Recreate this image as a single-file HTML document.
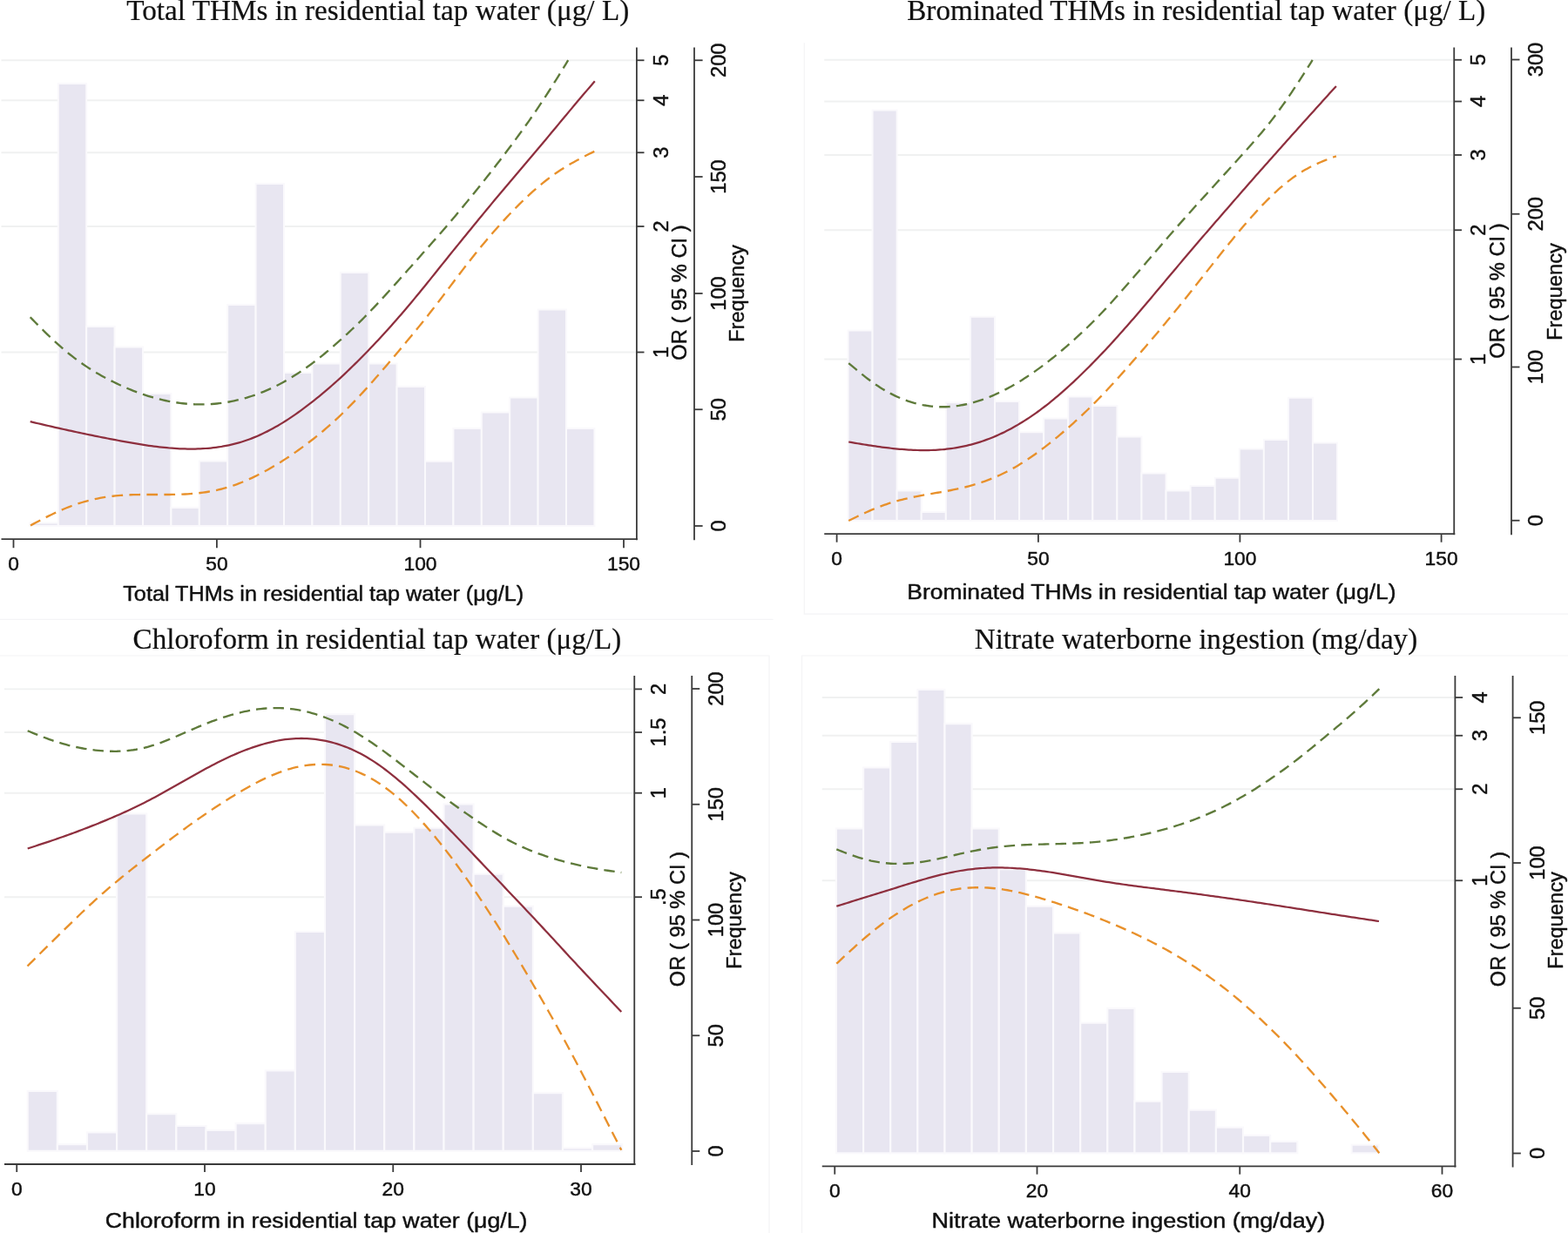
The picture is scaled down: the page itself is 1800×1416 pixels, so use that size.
<!DOCTYPE html>
<html lang="en"><head><meta charset="utf-8"><title>Exposure-response curves</title>
<style>
html,body{margin:0;padding:0;background:#fff}
body{width:1800px;height:1416px;overflow:hidden}
svg{display:block}
svg text{stroke:#111;stroke-width:.45px;stroke-linejoin:round}
svg text.ttl{stroke-width:.2px}
</style></head><body>
<svg xmlns="http://www.w3.org/2000/svg" width="1800" height="1416" viewBox="0 0 1800 1416" font-family='"Liberation Sans", sans-serif' fill="#111">
<rect width="1800" height="1416" fill="#fff"/>
<g fill="none" stroke="#f4f4f6" stroke-width="1.2"><path d="M0 711.4H887.6"/><path d="M923.3 49.3V705.1H1800"/><path d="M0 753H883V1416"/><path d="M1800 753H920.5V1416"/></g>
<g>
<g stroke="#f0f1f1" stroke-width="1.9"><line x1="1.5" x2="731" y1="69.25" y2="69.25"/><line x1="1.5" x2="731" y1="115.25" y2="115.25"/><line x1="1.5" x2="731" y1="175.25" y2="175.25"/><line x1="1.5" x2="731" y1="260" y2="260"/><line x1="1.5" x2="731" y1="404.5" y2="404.5"/></g>
<g fill="#e8e6f1" stroke="#faf9fc" stroke-width="2"><rect x="34.4" y="600.5" width="32.4" height="3.5"/><rect x="66.8" y="96" width="32.4" height="508"/><rect x="99.2" y="375" width="32.4" height="229"/><rect x="131.6" y="398.5" width="32.4" height="205.5"/><rect x="164" y="452" width="32.4" height="152"/><rect x="196.4" y="583" width="32.4" height="21"/><rect x="228.8" y="529.5" width="32.4" height="74.5"/><rect x="261.2" y="350" width="32.4" height="254"/><rect x="293.6" y="211" width="32.4" height="393"/><rect x="326" y="428" width="32.4" height="176"/><rect x="358.4" y="417.5" width="32.4" height="186.5"/><rect x="390.8" y="313" width="32.4" height="291"/><rect x="423.2" y="417.5" width="32.4" height="186.5"/><rect x="455.6" y="444" width="32.4" height="160"/><rect x="488" y="529.75" width="32.4" height="74.25"/><rect x="520.4" y="492" width="32.4" height="112"/><rect x="552.8" y="473.5" width="32.4" height="130.5"/><rect x="585.2" y="456.5" width="32.4" height="147.5"/><rect x="617.6" y="355.5" width="32.4" height="248.5"/><rect x="650" y="492" width="32.4" height="112"/></g>
<path d="M34.7 364.26 L37.52 367.13 L40.34 369.99 L43.16 372.84 L45.98 375.68 L48.8 378.5 L51.62 381.29 L54.44 384.05 L57.26 386.77 L60.08 389.46 L62.9 392.09 L65.72 394.68 L68.54 397.21 L71.36 399.68 L74.17 402.09 L76.99 404.43 L79.81 406.72 L82.63 408.95 L85.45 411.12 L88.27 413.24 L91.09 415.3 L93.91 417.3 L96.73 419.25 L99.55 421.14 L102.37 422.98 L105.19 424.77 L108.01 426.5 L110.83 428.19 L113.65 429.83 L116.47 431.43 L119.29 432.98 L122.11 434.5 L124.93 435.97 L127.75 437.41 L130.57 438.81 L133.39 440.18 L136.21 441.51 L139.03 442.82 L141.85 444.09 L144.67 445.32 L147.49 446.52 L150.31 447.68 L153.12 448.81 L155.94 449.91 L158.76 450.96 L161.58 451.98 L164.4 452.96 L167.22 453.9 L170.04 454.8 L172.86 455.66 L175.68 456.48 L178.5 457.26 L181.32 458.01 L184.14 458.71 L186.96 459.37 L189.78 460 L192.6 460.58 L195.42 461.13 L198.24 461.63 L201.06 462.09 L203.88 462.52 L206.7 462.9 L209.52 463.24 L212.34 463.54 L215.16 463.8 L217.98 464.01 L220.8 464.18 L223.62 464.31 L226.44 464.4 L229.25 464.44 L232.07 464.44 L234.89 464.39 L237.71 464.3 L240.53 464.16 L243.35 463.98 L246.17 463.76 L248.99 463.49 L251.81 463.17 L254.63 462.82 L257.45 462.41 L260.27 461.96 L263.09 461.47 L265.91 460.93 L268.73 460.35 L271.55 459.72 L274.37 459.05 L277.19 458.33 L280.01 457.57 L282.83 456.76 L285.65 455.9 L288.47 455 L291.29 454.05 L294.11 453.06 L296.93 452.01 L299.75 450.93 L302.57 449.79 L305.38 448.61 L308.2 447.38 L311.02 446.1 L313.84 444.77 L316.66 443.39 L319.48 441.96 L322.3 440.49 L325.12 438.96 L327.94 437.39 L330.76 435.76 L333.58 434.08 L336.4 432.36 L339.22 430.58 L342.04 428.76 L344.86 426.89 L347.68 424.98 L350.5 423.01 L353.32 421.01 L356.14 418.95 L358.96 416.86 L361.78 414.72 L364.6 412.54 L367.42 410.31 L370.24 408.05 L373.06 405.75 L375.88 403.41 L378.7 401.04 L381.52 398.63 L384.33 396.19 L387.15 393.72 L389.97 391.21 L392.79 388.68 L395.61 386.12 L398.43 383.53 L401.25 380.9 L404.07 378.25 L406.89 375.56 L409.71 372.85 L412.53 370.09 L415.35 367.31 L418.17 364.48 L420.99 361.63 L423.81 358.73 L426.63 355.8 L429.45 352.83 L432.27 349.84 L435.09 346.81 L437.91 343.76 L440.73 340.69 L443.55 337.59 L446.37 334.49 L449.19 331.37 L452.01 328.24 L454.83 325.1 L457.65 321.95 L460.46 318.8 L463.28 315.64 L466.1 312.48 L468.92 309.32 L471.74 306.16 L474.56 302.99 L477.38 299.82 L480.2 296.66 L483.02 293.49 L485.84 290.32 L488.66 287.15 L491.48 283.97 L494.3 280.78 L497.12 277.58 L499.94 274.38 L502.76 271.16 L505.58 267.92 L508.4 264.67 L511.22 261.4 L514.04 258.12 L516.86 254.81 L519.68 251.48 L522.5 248.14 L525.32 244.77 L528.14 241.39 L530.96 237.99 L533.78 234.57 L536.59 231.13 L539.41 227.68 L542.23 224.21 L545.05 220.72 L547.87 217.22 L550.69 213.7 L553.51 210.16 L556.33 206.61 L559.15 203.04 L561.97 199.45 L564.79 195.85 L567.61 192.22 L570.43 188.58 L573.25 184.92 L576.07 181.23 L578.89 177.53 L581.71 173.8 L584.53 170.05 L587.35 166.28 L590.17 162.48 L592.99 158.66 L595.81 154.8 L598.63 150.92 L601.45 147 L604.27 143.05 L607.09 139.06 L609.91 135.03 L612.73 130.95 L615.54 126.84 L618.36 122.67 L621.18 118.46 L624 114.19 L626.82 109.87 L629.64 105.49 L632.46 101.07 L635.28 96.6 L638.1 92.09 L640.92 87.55 L643.74 82.98 L646.56 78.39 L649.38 73.79 L652.2 69.18" fill="none" stroke="#5e7a3a" stroke-width="2.35" stroke-dasharray="12.597 7.198"/>
<path d="M35 603.46 L37.96 601.89 L40.91 600.32 L43.87 598.75 L46.82 597.2 L49.78 595.67 L52.73 594.16 L55.69 592.67 L58.65 591.21 L61.6 589.78 L64.56 588.39 L67.51 587.04 L70.47 585.74 L73.42 584.48 L76.38 583.26 L79.34 582.1 L82.29 580.98 L85.25 579.91 L88.2 578.89 L91.16 577.92 L94.11 577 L97.07 576.13 L100.03 575.32 L102.98 574.55 L105.94 573.83 L108.89 573.16 L111.85 572.54 L114.8 571.97 L117.76 571.44 L120.72 570.96 L123.67 570.52 L126.63 570.12 L129.58 569.77 L132.54 569.45 L135.49 569.18 L138.45 568.94 L141.41 568.73 L144.36 568.55 L147.32 568.41 L150.27 568.29 L153.23 568.19 L156.18 568.12 L159.14 568.06 L162.1 568.02 L165.05 568 L168.01 567.99 L170.96 567.98 L173.92 567.98 L176.87 567.99 L179.83 568 L182.79 568.01 L185.74 568.01 L188.7 568.01 L191.65 568 L194.61 567.98 L197.56 567.94 L200.52 567.89 L203.48 567.82 L206.43 567.73 L209.39 567.62 L212.34 567.49 L215.3 567.32 L218.25 567.13 L221.21 566.91 L224.17 566.65 L227.12 566.35 L230.08 566.02 L233.03 565.65 L235.99 565.23 L238.94 564.77 L241.9 564.27 L244.86 563.71 L247.81 563.11 L250.77 562.45 L253.72 561.74 L256.68 560.98 L259.63 560.16 L262.59 559.28 L265.55 558.34 L268.5 557.34 L271.46 556.28 L274.41 555.17 L277.37 554 L280.32 552.78 L283.28 551.51 L286.24 550.19 L289.19 548.82 L292.15 547.4 L295.1 545.94 L298.06 544.44 L301.01 542.89 L303.97 541.3 L306.93 539.67 L309.88 537.99 L312.84 536.28 L315.79 534.52 L318.75 532.73 L321.7 530.9 L324.66 529.03 L327.62 527.13 L330.57 525.18 L333.53 523.21 L336.48 521.19 L339.44 519.14 L342.39 517.05 L345.35 514.92 L348.31 512.76 L351.26 510.55 L354.22 508.31 L357.17 506.03 L360.13 503.71 L363.08 501.34 L366.04 498.94 L368.99 496.49 L371.95 494 L374.91 491.46 L377.86 488.88 L380.82 486.25 L383.77 483.57 L386.73 480.85 L389.68 478.07 L392.64 475.24 L395.6 472.35 L398.55 469.42 L401.51 466.44 L404.46 463.41 L407.42 460.34 L410.37 457.22 L413.33 454.07 L416.29 450.87 L419.24 447.63 L422.2 444.36 L425.15 441.06 L428.11 437.72 L431.06 434.35 L434.02 430.96 L436.98 427.54 L439.93 424.1 L442.89 420.64 L445.84 417.16 L448.8 413.67 L451.75 410.17 L454.71 406.66 L457.67 403.15 L460.62 399.63 L463.58 396.1 L466.53 392.56 L469.49 389.01 L472.44 385.44 L475.4 381.85 L478.36 378.25 L481.31 374.62 L484.27 370.97 L487.22 367.29 L490.18 363.58 L493.13 359.83 L496.09 356.05 L499.05 352.23 L502 348.38 L504.96 344.5 L507.91 340.61 L510.87 336.69 L513.82 332.77 L516.78 328.85 L519.74 324.93 L522.69 321.02 L525.65 317.13 L528.6 313.25 L531.56 309.39 L534.51 305.55 L537.47 301.75 L540.43 297.98 L543.38 294.25 L546.34 290.55 L549.29 286.9 L552.25 283.28 L555.2 279.71 L558.16 276.17 L561.12 272.68 L564.07 269.23 L567.03 265.82 L569.98 262.45 L572.94 259.12 L575.89 255.84 L578.85 252.61 L581.81 249.42 L584.76 246.27 L587.72 243.17 L590.67 240.12 L593.63 237.12 L596.58 234.17 L599.54 231.27 L602.5 228.42 L605.45 225.63 L608.41 222.89 L611.36 220.21 L614.32 217.59 L617.27 215.03 L620.23 212.54 L623.19 210.11 L626.14 207.75 L629.1 205.46 L632.05 203.23 L635.01 201.08 L637.96 199 L640.92 196.98 L643.88 195.04 L646.83 193.15 L649.79 191.33 L652.74 189.55 L655.7 187.83 L658.65 186.16 L661.61 184.53 L664.57 182.93 L667.52 181.37 L670.48 179.83 L673.43 178.32 L676.39 176.82 L679.34 175.33 L682.3 173.85" fill="none" stroke="#e8902a" stroke-width="2.35" stroke-dasharray="12.726 7.272"/>
<path d="M34.7 484.2 L37.66 484.89 L40.62 485.58 L43.58 486.27 L46.54 486.96 L49.5 487.64 L52.46 488.33 L55.42 489.01 L58.37 489.68 L61.33 490.36 L64.29 491.03 L67.25 491.7 L70.21 492.36 L73.17 493.02 L76.13 493.67 L79.09 494.32 L82.05 494.97 L85.01 495.61 L87.97 496.24 L90.93 496.87 L93.89 497.5 L96.85 498.12 L99.81 498.73 L102.77 499.34 L105.72 499.95 L108.68 500.55 L111.64 501.15 L114.6 501.74 L117.56 502.33 L120.52 502.91 L123.48 503.48 L126.44 504.06 L129.4 504.63 L132.36 505.19 L135.32 505.75 L138.28 506.31 L141.24 506.86 L144.2 507.4 L147.16 507.93 L150.12 508.46 L153.07 508.97 L156.03 509.48 L158.99 509.97 L161.95 510.44 L164.91 510.9 L167.87 511.35 L170.83 511.78 L173.79 512.19 L176.75 512.59 L179.71 512.96 L182.67 513.31 L185.63 513.65 L188.59 513.95 L191.55 514.24 L194.51 514.5 L197.46 514.73 L200.42 514.94 L203.38 515.12 L206.34 515.27 L209.3 515.39 L212.26 515.48 L215.22 515.54 L218.18 515.57 L221.14 515.56 L224.1 515.52 L227.06 515.45 L230.02 515.34 L232.98 515.19 L235.94 515 L238.9 514.78 L241.86 514.51 L244.81 514.2 L247.77 513.84 L250.73 513.44 L253.69 512.99 L256.65 512.48 L259.61 511.93 L262.57 511.33 L265.53 510.67 L268.49 509.95 L271.45 509.18 L274.41 508.35 L277.37 507.47 L280.33 506.52 L283.29 505.52 L286.25 504.46 L289.21 503.34 L292.16 502.17 L295.12 500.92 L298.08 499.62 L301.04 498.26 L304 496.84 L306.96 495.37 L309.92 493.83 L312.88 492.24 L315.84 490.6 L318.8 488.9 L321.76 487.15 L324.72 485.34 L327.68 483.49 L330.64 481.58 L333.6 479.63 L336.55 477.63 L339.51 475.58 L342.47 473.49 L345.43 471.35 L348.39 469.18 L351.35 466.96 L354.31 464.7 L357.27 462.41 L360.23 460.08 L363.19 457.72 L366.15 455.32 L369.11 452.88 L372.07 450.41 L375.03 447.9 L377.99 445.35 L380.95 442.77 L383.9 440.15 L386.86 437.5 L389.82 434.81 L392.78 432.08 L395.74 429.31 L398.7 426.51 L401.66 423.67 L404.62 420.8 L407.58 417.9 L410.54 414.96 L413.5 411.99 L416.46 408.99 L419.42 405.97 L422.38 402.91 L425.34 399.83 L428.29 396.72 L431.25 393.59 L434.21 390.42 L437.17 387.23 L440.13 384.01 L443.09 380.76 L446.05 377.48 L449.01 374.17 L451.97 370.84 L454.93 367.47 L457.89 364.07 L460.85 360.64 L463.81 357.19 L466.77 353.7 L469.73 350.2 L472.69 346.66 L475.64 343.11 L478.6 339.53 L481.56 335.93 L484.52 332.31 L487.48 328.67 L490.44 325.01 L493.4 321.34 L496.36 317.66 L499.32 313.97 L502.28 310.27 L505.24 306.57 L508.2 302.88 L511.16 299.18 L514.12 295.5 L517.08 291.82 L520.04 288.15 L522.99 284.49 L525.95 280.84 L528.91 277.2 L531.87 273.56 L534.83 269.93 L537.79 266.31 L540.75 262.68 L543.71 259.06 L546.67 255.45 L549.63 251.83 L552.59 248.23 L555.55 244.63 L558.51 241.03 L561.47 237.45 L564.43 233.88 L567.38 230.32 L570.34 226.78 L573.3 223.25 L576.26 219.73 L579.22 216.22 L582.18 212.72 L585.14 209.22 L588.1 205.73 L591.06 202.25 L594.02 198.76 L596.98 195.28 L599.94 191.79 L602.9 188.3 L605.86 184.81 L608.82 181.31 L611.78 177.8 L614.73 174.28 L617.69 170.76 L620.65 167.23 L623.61 163.7 L626.57 160.16 L629.53 156.61 L632.49 153.06 L635.45 149.5 L638.41 145.95 L641.37 142.38 L644.33 138.82 L647.29 135.26 L650.25 131.7 L653.21 128.15 L656.17 124.61 L659.13 121.08 L662.08 117.56 L665.04 114.06 L668 110.57 L670.96 107.1 L673.92 103.63 L676.88 100.18 L679.84 96.73 L682.8 93.28" fill="none" stroke="#8e2f3e" stroke-width="2.25"/>
<g stroke="#3a3a3a" stroke-width="1.8"><line x1="1.5" x2="732" y1="619.2" y2="619.2"/><line x1="15.5" x2="15.5" y1="619.2" y2="629.2"/><line x1="248.9" x2="248.9" y1="619.2" y2="629.2"/><line x1="482.5" x2="482.5" y1="619.2" y2="629.2"/><line x1="716" x2="716" y1="619.2" y2="629.2"/><line x1="730.9" x2="730.9" y1="54.5" y2="620.2"/><line x1="730.9" x2="739.5" y1="69.25" y2="69.25"/><line x1="730.9" x2="739.5" y1="115.25" y2="115.25"/><line x1="730.9" x2="739.5" y1="175.25" y2="175.25"/><line x1="730.9" x2="739.5" y1="260" y2="260"/><line x1="730.9" x2="739.5" y1="404.5" y2="404.5"/><line x1="797" x2="797" y1="54.5" y2="620.2"/><line x1="797" x2="806.6" y1="69.25" y2="69.25"/><line x1="797" x2="806.6" y1="203" y2="203"/><line x1="797" x2="806.6" y1="337" y2="337"/><line x1="797" x2="806.6" y1="470.25" y2="470.25"/><line x1="797" x2="806.6" y1="604" y2="604"/></g>
<text x="15.5" y="655" text-anchor="middle" font-size="22.8">0</text>
<text x="248.9" y="655" text-anchor="middle" font-size="22.8">50</text>
<text x="482.5" y="655" text-anchor="middle" font-size="22.8">100</text>
<text x="716" y="655" text-anchor="middle" font-size="22.8">150</text>
<text transform="translate(766.7 69.25) rotate(-90)" text-anchor="middle" font-size="23.7">5</text>
<text transform="translate(766.7 115.25) rotate(-90)" text-anchor="middle" font-size="23.7">4</text>
<text transform="translate(766.7 175.25) rotate(-90)" text-anchor="middle" font-size="23.7">3</text>
<text transform="translate(766.7 260) rotate(-90)" text-anchor="middle" font-size="23.7">2</text>
<text transform="translate(766.7 404.5) rotate(-90)" text-anchor="middle" font-size="23.7">1</text>
<text transform="translate(788 336) rotate(-90)" text-anchor="middle" font-size="23.7">OR ( 95 % CI )</text>
<text transform="translate(832.5 69.25) rotate(-90)" text-anchor="middle" font-size="23.7">200</text>
<text transform="translate(832.5 203) rotate(-90)" text-anchor="middle" font-size="23.7">150</text>
<text transform="translate(832.5 337) rotate(-90)" text-anchor="middle" font-size="23.7">100</text>
<text transform="translate(832.5 470.25) rotate(-90)" text-anchor="middle" font-size="23.7">50</text>
<text transform="translate(832.5 604) rotate(-90)" text-anchor="middle" font-size="23.7">0</text>
<text transform="translate(853.75 337) rotate(-90)" text-anchor="middle" font-size="23.7">Frequency</text>
<text x="145.2" y="22.9" font-family='"Liberation Serif", serif' font-size="33.1" class="ttl" textLength="577.1" lengthAdjust="spacingAndGlyphs">Total THMs in residential tap water (μg/ L)</text>
<text x="141.25" y="689.5" font-size="24.2" textLength="460" lengthAdjust="spacingAndGlyphs">Total THMs in residential tap water (μg/L)</text>
</g>
<g>
<g stroke="#f0f1f1" stroke-width="1.9"><line x1="946.25" x2="1669" y1="68.75" y2="68.75"/><line x1="946.25" x2="1669" y1="116.5" y2="116.5"/><line x1="946.25" x2="1669" y1="178" y2="178"/><line x1="946.25" x2="1669" y1="264.25" y2="264.25"/><line x1="946.25" x2="1669" y1="412.5" y2="412.5"/></g>
<g fill="#e8e6f1" stroke="#faf9fc" stroke-width="1.98"><rect x="973.51" y="379.51" width="28.08" height="218.48"/><rect x="1001.59" y="126.51" width="28.08" height="471.48"/><rect x="1029.67" y="563.51" width="28.08" height="34.48"/><rect x="1057.75" y="588.01" width="28.08" height="9.98"/><rect x="1085.83" y="462.26" width="28.08" height="135.73"/><rect x="1113.91" y="363.76" width="28.08" height="234.23"/><rect x="1141.99" y="461.01" width="28.08" height="136.98"/><rect x="1170.07" y="496.26" width="28.08" height="101.73"/><rect x="1198.15" y="480.51" width="28.08" height="117.48"/><rect x="1226.23" y="455.51" width="28.08" height="142.48"/><rect x="1254.31" y="466.01" width="28.08" height="131.98"/><rect x="1282.39" y="501.51" width="28.08" height="96.48"/><rect x="1310.47" y="543.51" width="28.08" height="54.48"/><rect x="1338.55" y="563.51" width="28.08" height="34.48"/><rect x="1366.63" y="558.01" width="28.08" height="39.98"/><rect x="1394.71" y="548.76" width="28.08" height="49.23"/><rect x="1422.79" y="515.51" width="28.08" height="82.48"/><rect x="1450.87" y="505.01" width="28.08" height="92.98"/><rect x="1478.95" y="456.76" width="28.08" height="141.23"/><rect x="1507.03" y="508.51" width="28.08" height="89.48"/></g>
<path d="M974.2 417.08 L976.63 419.13 L979.06 421.18 L981.49 423.22 L983.93 425.24 L986.36 427.24 L988.79 429.22 L991.22 431.16 L993.65 433.08 L996.08 434.95 L998.52 436.79 L1000.95 438.57 L1003.38 440.3 L1005.81 441.98 L1008.24 443.6 L1010.67 445.16 L1013.1 446.67 L1015.54 448.13 L1017.97 449.53 L1020.4 450.87 L1022.83 452.17 L1025.26 453.4 L1027.69 454.58 L1030.12 455.71 L1032.56 456.78 L1034.99 457.8 L1037.42 458.76 L1039.85 459.67 L1042.28 460.53 L1044.71 461.33 L1047.15 462.08 L1049.58 462.78 L1052.01 463.43 L1054.44 464.03 L1056.87 464.57 L1059.3 465.07 L1061.73 465.51 L1064.17 465.91 L1066.6 466.26 L1069.03 466.55 L1071.46 466.8 L1073.89 466.99 L1076.32 467.14 L1078.75 467.23 L1081.19 467.27 L1083.62 467.27 L1086.05 467.21 L1088.48 467.1 L1090.91 466.94 L1093.34 466.74 L1095.78 466.49 L1098.21 466.18 L1100.64 465.84 L1103.07 465.44 L1105.5 465 L1107.93 464.52 L1110.36 463.99 L1112.8 463.41 L1115.23 462.79 L1117.66 462.13 L1120.09 461.43 L1122.52 460.69 L1124.95 459.9 L1127.38 459.07 L1129.82 458.2 L1132.25 457.3 L1134.68 456.35 L1137.11 455.36 L1139.54 454.33 L1141.97 453.27 L1144.41 452.16 L1146.84 451.02 L1149.27 449.84 L1151.7 448.63 L1154.13 447.38 L1156.56 446.09 L1158.99 444.77 L1161.43 443.41 L1163.86 442.02 L1166.29 440.6 L1168.72 439.14 L1171.15 437.65 L1173.58 436.14 L1176.02 434.58 L1178.45 433 L1180.88 431.39 L1183.31 429.75 L1185.74 428.08 L1188.17 426.37 L1190.6 424.64 L1193.04 422.88 L1195.47 421.1 L1197.9 419.28 L1200.33 417.44 L1202.76 415.57 L1205.19 413.67 L1207.62 411.75 L1210.06 409.8 L1212.49 407.82 L1214.92 405.82 L1217.35 403.79 L1219.78 401.74 L1222.21 399.67 L1224.65 397.57 L1227.08 395.44 L1229.51 393.3 L1231.94 391.13 L1234.37 388.94 L1236.8 386.72 L1239.23 384.48 L1241.67 382.21 L1244.1 379.92 L1246.53 377.6 L1248.96 375.25 L1251.39 372.88 L1253.82 370.47 L1256.25 368.04 L1258.69 365.57 L1261.12 363.08 L1263.55 360.55 L1265.98 357.99 L1268.41 355.41 L1270.84 352.79 L1273.28 350.15 L1275.71 347.48 L1278.14 344.79 L1280.57 342.08 L1283 339.35 L1285.43 336.6 L1287.86 333.84 L1290.3 331.07 L1292.73 328.28 L1295.16 325.49 L1297.59 322.68 L1300.02 319.88 L1302.45 317.06 L1304.88 314.24 L1307.32 311.42 L1309.75 308.59 L1312.18 305.76 L1314.61 302.93 L1317.04 300.1 L1319.47 297.26 L1321.91 294.43 L1324.34 291.59 L1326.77 288.76 L1329.2 285.93 L1331.63 283.11 L1334.06 280.28 L1336.49 277.46 L1338.93 274.65 L1341.36 271.84 L1343.79 269.04 L1346.22 266.24 L1348.65 263.45 L1351.08 260.67 L1353.52 257.9 L1355.95 255.14 L1358.38 252.38 L1360.81 249.64 L1363.24 246.91 L1365.67 244.18 L1368.1 241.47 L1370.54 238.77 L1372.97 236.07 L1375.4 233.39 L1377.83 230.7 L1380.26 228.02 L1382.69 225.35 L1385.12 222.68 L1387.56 220.01 L1389.99 217.34 L1392.42 214.67 L1394.85 211.99 L1397.28 209.32 L1399.71 206.64 L1402.15 203.97 L1404.58 201.29 L1407.01 198.61 L1409.44 195.93 L1411.87 193.25 L1414.3 190.56 L1416.73 187.88 L1419.17 185.19 L1421.6 182.5 L1424.03 179.81 L1426.46 177.12 L1428.89 174.42 L1431.32 171.71 L1433.75 168.99 L1436.19 166.26 L1438.62 163.5 L1441.05 160.72 L1443.48 157.91 L1445.91 155.07 L1448.34 152.19 L1450.78 149.27 L1453.21 146.3 L1455.64 143.29 L1458.07 140.22 L1460.5 137.1 L1462.93 133.92 L1465.36 130.69 L1467.8 127.4 L1470.23 124.06 L1472.66 120.67 L1475.09 117.22 L1477.52 113.73 L1479.95 110.18 L1482.38 106.59 L1484.82 102.96 L1487.25 99.29 L1489.68 95.58 L1492.11 91.85 L1494.54 88.08 L1496.97 84.29 L1499.41 80.48 L1501.84 76.66 L1504.27 72.82 L1506.7 68.98" fill="none" stroke="#5e7a3a" stroke-width="2.35" stroke-dasharray="12.508 7.148"/>
<path d="M974.2 597.95 L976.76 596.7 L979.31 595.46 L981.87 594.22 L984.42 592.98 L986.98 591.76 L989.53 590.56 L992.09 589.37 L994.65 588.21 L997.2 587.07 L999.76 585.95 L1002.31 584.87 L1004.87 583.82 L1007.42 582.8 L1009.98 581.82 L1012.54 580.87 L1015.09 579.95 L1017.65 579.06 L1020.2 578.21 L1022.76 577.39 L1025.31 576.6 L1027.87 575.85 L1030.43 575.12 L1032.98 574.43 L1035.54 573.77 L1038.09 573.14 L1040.65 572.53 L1043.2 571.95 L1045.76 571.39 L1048.32 570.85 L1050.87 570.33 L1053.43 569.83 L1055.98 569.34 L1058.54 568.87 L1061.09 568.41 L1063.65 567.96 L1066.21 567.52 L1068.76 567.08 L1071.32 566.64 L1073.87 566.2 L1076.43 565.77 L1078.98 565.33 L1081.54 564.88 L1084.1 564.42 L1086.65 563.96 L1089.21 563.48 L1091.76 562.98 L1094.32 562.47 L1096.87 561.95 L1099.43 561.4 L1101.99 560.83 L1104.54 560.24 L1107.1 559.63 L1109.65 558.99 L1112.21 558.32 L1114.76 557.63 L1117.32 556.9 L1119.88 556.14 L1122.43 555.35 L1124.99 554.53 L1127.54 553.67 L1130.1 552.77 L1132.65 551.84 L1135.21 550.88 L1137.77 549.87 L1140.32 548.83 L1142.88 547.75 L1145.43 546.63 L1147.99 545.46 L1150.54 544.26 L1153.1 543.01 L1155.66 541.73 L1158.21 540.4 L1160.77 539.03 L1163.32 537.61 L1165.88 536.16 L1168.43 534.66 L1170.99 533.11 L1173.55 531.53 L1176.1 529.9 L1178.66 528.23 L1181.21 526.52 L1183.77 524.77 L1186.32 522.99 L1188.88 521.17 L1191.44 519.32 L1193.99 517.43 L1196.55 515.52 L1199.1 513.57 L1201.66 511.59 L1204.21 509.58 L1206.77 507.55 L1209.33 505.49 L1211.88 503.4 L1214.44 501.29 L1216.99 499.14 L1219.55 496.98 L1222.1 494.79 L1224.66 492.57 L1227.22 490.33 L1229.77 488.07 L1232.33 485.79 L1234.88 483.47 L1237.44 481.14 L1239.99 478.77 L1242.55 476.38 L1245.11 473.96 L1247.66 471.51 L1250.22 469.03 L1252.77 466.52 L1255.33 463.98 L1257.88 461.4 L1260.44 458.8 L1262.99 456.16 L1265.55 453.49 L1268.11 450.79 L1270.66 448.07 L1273.22 445.32 L1275.77 442.55 L1278.33 439.76 L1280.88 436.95 L1283.44 434.12 L1286 431.27 L1288.55 428.4 L1291.11 425.52 L1293.66 422.63 L1296.22 419.73 L1298.77 416.81 L1301.33 413.89 L1303.89 410.96 L1306.44 408.02 L1309 405.08 L1311.55 402.12 L1314.11 399.16 L1316.66 396.19 L1319.22 393.2 L1321.78 390.21 L1324.33 387.2 L1326.89 384.18 L1329.44 381.14 L1332 378.09 L1334.55 375.03 L1337.11 371.95 L1339.67 368.86 L1342.22 365.75 L1344.78 362.64 L1347.33 359.5 L1349.89 356.36 L1352.44 353.21 L1355 350.04 L1357.56 346.86 L1360.11 343.67 L1362.67 340.47 L1365.22 337.26 L1367.78 334.04 L1370.33 330.81 L1372.89 327.58 L1375.45 324.34 L1378 321.1 L1380.56 317.85 L1383.11 314.61 L1385.67 311.36 L1388.22 308.12 L1390.78 304.88 L1393.34 301.65 L1395.89 298.42 L1398.45 295.21 L1401 292 L1403.56 288.8 L1406.11 285.61 L1408.67 282.44 L1411.23 279.29 L1413.78 276.15 L1416.34 273.04 L1418.89 269.95 L1421.45 266.88 L1424 263.83 L1426.56 260.81 L1429.12 257.83 L1431.67 254.87 L1434.23 251.94 L1436.78 249.05 L1439.34 246.2 L1441.89 243.38 L1444.45 240.6 L1447.01 237.87 L1449.56 235.18 L1452.12 232.53 L1454.67 229.93 L1457.23 227.39 L1459.78 224.89 L1462.34 222.45 L1464.9 220.07 L1467.45 217.74 L1470.01 215.48 L1472.56 213.28 L1475.12 211.15 L1477.67 209.09 L1480.23 207.09 L1482.79 205.17 L1485.34 203.32 L1487.9 201.53 L1490.45 199.82 L1493.01 198.18 L1495.56 196.6 L1498.12 195.1 L1500.68 193.66 L1503.23 192.29 L1505.79 190.97 L1508.34 189.72 L1510.9 188.51 L1513.45 187.36 L1516.01 186.25 L1518.57 185.18 L1521.12 184.15 L1523.68 183.15 L1526.23 182.17 L1528.79 181.21 L1531.34 180.26 L1533.9 179.31" fill="none" stroke="#e8902a" stroke-width="2.35" stroke-dasharray="12.663 7.236"/>
<path d="M974.2 507.51 L976.76 507.95 L979.31 508.39 L981.87 508.82 L984.42 509.25 L986.98 509.68 L989.53 510.1 L992.09 510.51 L994.65 510.92 L997.2 511.32 L999.76 511.71 L1002.31 512.1 L1004.87 512.47 L1007.42 512.83 L1009.98 513.18 L1012.54 513.52 L1015.09 513.84 L1017.65 514.16 L1020.2 514.46 L1022.76 514.75 L1025.31 515.02 L1027.87 515.28 L1030.43 515.53 L1032.98 515.76 L1035.54 515.98 L1038.09 516.18 L1040.65 516.37 L1043.2 516.54 L1045.76 516.68 L1048.32 516.81 L1050.87 516.92 L1053.43 517 L1055.98 517.06 L1058.54 517.1 L1061.09 517.12 L1063.65 517.1 L1066.21 517.06 L1068.76 517 L1071.32 516.91 L1073.87 516.79 L1076.43 516.64 L1078.98 516.46 L1081.54 516.25 L1084.1 516.01 L1086.65 515.74 L1089.21 515.44 L1091.76 515.11 L1094.32 514.74 L1096.87 514.34 L1099.43 513.9 L1101.99 513.43 L1104.54 512.93 L1107.1 512.39 L1109.65 511.82 L1112.21 511.2 L1114.76 510.55 L1117.32 509.86 L1119.88 509.14 L1122.43 508.37 L1124.99 507.57 L1127.54 506.73 L1130.1 505.85 L1132.65 504.93 L1135.21 503.97 L1137.77 502.97 L1140.32 501.93 L1142.88 500.86 L1145.43 499.74 L1147.99 498.58 L1150.54 497.38 L1153.1 496.14 L1155.66 494.86 L1158.21 493.54 L1160.77 492.18 L1163.32 490.78 L1165.88 489.34 L1168.43 487.86 L1170.99 486.34 L1173.55 484.77 L1176.1 483.17 L1178.66 481.53 L1181.21 479.85 L1183.77 478.13 L1186.32 476.38 L1188.88 474.58 L1191.44 472.75 L1193.99 470.87 L1196.55 468.96 L1199.1 467.02 L1201.66 465.03 L1204.21 463.01 L1206.77 460.95 L1209.33 458.86 L1211.88 456.73 L1214.44 454.57 L1216.99 452.38 L1219.55 450.16 L1222.1 447.9 L1224.66 445.61 L1227.22 443.29 L1229.77 440.95 L1232.33 438.57 L1234.88 436.17 L1237.44 433.74 L1239.99 431.28 L1242.55 428.8 L1245.11 426.29 L1247.66 423.76 L1250.22 421.2 L1252.77 418.62 L1255.33 416.01 L1257.88 413.39 L1260.44 410.74 L1262.99 408.07 L1265.55 405.38 L1268.11 402.67 L1270.66 399.94 L1273.22 397.18 L1275.77 394.41 L1278.33 391.62 L1280.88 388.8 L1283.44 385.97 L1286 383.11 L1288.55 380.24 L1291.11 377.35 L1293.66 374.45 L1296.22 371.52 L1298.77 368.59 L1301.33 365.64 L1303.89 362.68 L1306.44 359.7 L1309 356.71 L1311.55 353.72 L1314.11 350.71 L1316.66 347.7 L1319.22 344.67 L1321.78 341.65 L1324.33 338.61 L1326.89 335.57 L1329.44 332.53 L1332 329.48 L1334.55 326.44 L1337.11 323.39 L1339.67 320.34 L1342.22 317.29 L1344.78 314.25 L1347.33 311.21 L1349.89 308.17 L1352.44 305.14 L1355 302.11 L1357.56 299.09 L1360.11 296.07 L1362.67 293.05 L1365.22 290.04 L1367.78 287.04 L1370.33 284.04 L1372.89 281.05 L1375.45 278.06 L1378 275.07 L1380.56 272.09 L1383.11 269.12 L1385.67 266.15 L1388.22 263.19 L1390.78 260.24 L1393.34 257.29 L1395.89 254.34 L1398.45 251.4 L1401 248.46 L1403.56 245.52 L1406.11 242.58 L1408.67 239.64 L1411.23 236.7 L1413.78 233.76 L1416.34 230.82 L1418.89 227.88 L1421.45 224.94 L1424 222 L1426.56 219.07 L1429.12 216.14 L1431.67 213.22 L1434.23 210.31 L1436.78 207.4 L1439.34 204.5 L1441.89 201.6 L1444.45 198.7 L1447.01 195.81 L1449.56 192.92 L1452.12 190.03 L1454.67 187.15 L1457.23 184.26 L1459.78 181.38 L1462.34 178.51 L1464.9 175.63 L1467.45 172.76 L1470.01 169.89 L1472.56 167.03 L1475.12 164.16 L1477.67 161.3 L1480.23 158.45 L1482.79 155.59 L1485.34 152.74 L1487.9 149.89 L1490.45 147.04 L1493.01 144.19 L1495.56 141.35 L1498.12 138.51 L1500.68 135.67 L1503.23 132.84 L1505.79 130 L1508.34 127.17 L1510.9 124.34 L1513.45 121.51 L1516.01 118.68 L1518.57 115.85 L1521.12 113.02 L1523.68 110.2 L1526.23 107.37 L1528.79 104.55 L1531.34 101.72 L1533.9 98.9" fill="none" stroke="#8e2f3e" stroke-width="2.25"/>
<g stroke="#3a3a3a" stroke-width="1.8"><line x1="946.25" x2="1670.25" y1="613.2" y2="613.2"/><line x1="960.6" x2="960.6" y1="613.2" y2="622.7"/><line x1="1191.9" x2="1191.9" y1="613.2" y2="622.7"/><line x1="1423.4" x2="1423.4" y1="613.2" y2="622.7"/><line x1="1654.6" x2="1654.6" y1="613.2" y2="622.7"/><line x1="1669.25" x2="1669.25" y1="54.5" y2="614.2"/><line x1="1669.25" x2="1678" y1="68.75" y2="68.75"/><line x1="1669.25" x2="1678" y1="116.5" y2="116.5"/><line x1="1669.25" x2="1678" y1="178" y2="178"/><line x1="1669.25" x2="1678" y1="264.25" y2="264.25"/><line x1="1669.25" x2="1678" y1="412.5" y2="412.5"/><line x1="1735" x2="1735" y1="54.5" y2="614.2"/><line x1="1735" x2="1744.5" y1="68.5" y2="68.5"/><line x1="1735" x2="1744.5" y1="245.75" y2="245.75"/><line x1="1735" x2="1744.5" y1="421.5" y2="421.5"/><line x1="1735" x2="1744.5" y1="597.75" y2="597.75"/></g>
<text x="960.6" y="648.8" text-anchor="middle" font-size="22.8">0</text>
<text x="1191.9" y="648.8" text-anchor="middle" font-size="22.8">50</text>
<text x="1423.4" y="648.8" text-anchor="middle" font-size="22.8">100</text>
<text x="1654.6" y="648.8" text-anchor="middle" font-size="22.8">150</text>
<text transform="translate(1705 68.75) rotate(-90)" text-anchor="middle" font-size="23.7">5</text>
<text transform="translate(1705 116.5) rotate(-90)" text-anchor="middle" font-size="23.7">4</text>
<text transform="translate(1705 178) rotate(-90)" text-anchor="middle" font-size="23.7">3</text>
<text transform="translate(1705 264.25) rotate(-90)" text-anchor="middle" font-size="23.7">2</text>
<text transform="translate(1705 412.5) rotate(-90)" text-anchor="middle" font-size="23.7">1</text>
<text transform="translate(1727 334) rotate(-90)" text-anchor="middle" font-size="23.7">OR ( 95 % CI )</text>
<text transform="translate(1771.25 68.5) rotate(-90)" text-anchor="middle" font-size="23.7">300</text>
<text transform="translate(1771.25 245.75) rotate(-90)" text-anchor="middle" font-size="23.7">200</text>
<text transform="translate(1771.25 421.5) rotate(-90)" text-anchor="middle" font-size="23.7">100</text>
<text transform="translate(1771.25 597.75) rotate(-90)" text-anchor="middle" font-size="23.7">0</text>
<text transform="translate(1792.5 335) rotate(-90)" text-anchor="middle" font-size="23.7">Frequency</text>
<text x="1041.25" y="22.9" font-family='"Liberation Serif", serif' font-size="33.1" class="ttl" textLength="664.05" lengthAdjust="spacingAndGlyphs">Brominated THMs in residential tap water (μg/ L)</text>
<text x="1041.25" y="688.25" font-size="24.2" textLength="561.25" lengthAdjust="spacingAndGlyphs">Brominated THMs in residential tap water (μg/L)</text>
</g>
<g>
<g stroke="#f0f1f1" stroke-width="1.9"><line x1="5" x2="728" y1="791.4" y2="791.4"/><line x1="5" x2="728" y1="841" y2="841"/><line x1="5" x2="728" y1="910.7" y2="910.7"/><line x1="5" x2="728" y1="1030.2" y2="1030.2"/></g>
<g fill="#e8e6f1" stroke="#faf9fc" stroke-width="2.12"><rect x="31.74" y="1252.94" width="34.12" height="68.88"/><rect x="65.86" y="1314.19" width="34.12" height="7.62"/><rect x="99.99" y="1300.44" width="34.12" height="21.38"/><rect x="134.11" y="934.44" width="34.12" height="387.38"/><rect x="168.24" y="1279.19" width="34.12" height="42.62"/><rect x="202.36" y="1292.94" width="34.12" height="28.88"/><rect x="236.49" y="1297.94" width="34.12" height="23.88"/><rect x="270.61" y="1290.19" width="34.12" height="31.62"/><rect x="304.74" y="1229.44" width="34.12" height="92.38"/><rect x="338.86" y="1069.94" width="34.12" height="251.88"/><rect x="372.99" y="820.19" width="34.12" height="501.62"/><rect x="407.11" y="947.44" width="34.12" height="374.38"/><rect x="441.24" y="955.69" width="34.12" height="366.12"/><rect x="475.36" y="950.69" width="34.12" height="371.12"/><rect x="509.49" y="923.44" width="34.12" height="398.38"/><rect x="543.61" y="1003.69" width="34.12" height="318.12"/><rect x="577.74" y="1040.69" width="34.12" height="281.12"/><rect x="611.86" y="1255.19" width="34.12" height="66.62"/><rect x="645.99" y="1318.44" width="34.12" height="3.38"/><rect x="680.11" y="1314.19" width="34.12" height="7.62"/></g>
<path d="M31.7 839.24 L34.81 840.53 L37.92 841.8 L41.04 843.07 L44.15 844.32 L47.26 845.55 L50.37 846.75 L53.49 847.92 L56.6 849.05 L59.71 850.14 L62.82 851.19 L65.94 852.2 L69.05 853.17 L72.16 854.09 L75.27 854.97 L78.38 855.8 L81.5 856.58 L84.61 857.31 L87.72 858 L90.83 858.65 L93.95 859.24 L97.06 859.8 L100.17 860.3 L103.28 860.77 L106.4 861.18 L109.51 861.55 L112.62 861.88 L115.73 862.15 L118.85 862.38 L121.96 862.57 L125.07 862.7 L128.18 862.78 L131.29 862.81 L134.41 862.78 L137.52 862.68 L140.63 862.53 L143.74 862.31 L146.86 862.03 L149.97 861.67 L153.08 861.25 L156.19 860.75 L159.31 860.17 L162.42 859.52 L165.53 858.8 L168.64 858.01 L171.75 857.14 L174.87 856.21 L177.98 855.22 L181.09 854.16 L184.2 853.04 L187.32 851.88 L190.43 850.67 L193.54 849.42 L196.65 848.14 L199.77 846.83 L202.88 845.5 L205.99 844.14 L209.1 842.78 L212.22 841.41 L215.33 840.04 L218.44 838.68 L221.55 837.33 L224.66 835.99 L227.78 834.67 L230.89 833.37 L234 832.1 L237.11 830.85 L240.23 829.63 L243.34 828.44 L246.45 827.29 L249.56 826.17 L252.68 825.1 L255.79 824.05 L258.9 823.05 L262.01 822.09 L265.12 821.17 L268.24 820.28 L271.35 819.44 L274.46 818.65 L277.57 817.89 L280.69 817.19 L283.8 816.53 L286.91 815.92 L290.02 815.37 L293.14 814.87 L296.25 814.43 L299.36 814.06 L302.47 813.74 L305.58 813.48 L308.7 813.29 L311.81 813.16 L314.92 813.09 L318.03 813.09 L321.15 813.15 L324.26 813.28 L327.37 813.47 L330.48 813.73 L333.6 814.06 L336.71 814.45 L339.82 814.91 L342.93 815.43 L346.05 816.02 L349.16 816.67 L352.27 817.39 L355.38 818.18 L358.49 819.03 L361.61 819.95 L364.72 820.93 L367.83 821.97 L370.94 823.08 L374.06 824.25 L377.17 825.48 L380.28 826.77 L383.39 828.13 L386.51 829.54 L389.62 831.02 L392.73 832.55 L395.84 834.15 L398.95 835.8 L402.07 837.51 L405.18 839.28 L408.29 841.1 L411.4 842.98 L414.52 844.91 L417.63 846.89 L420.74 848.91 L423.85 850.98 L426.97 853.08 L430.08 855.23 L433.19 857.41 L436.3 859.63 L439.42 861.88 L442.53 864.17 L445.64 866.48 L448.75 868.81 L451.86 871.17 L454.98 873.55 L458.09 875.95 L461.2 878.36 L464.31 880.77 L467.43 883.19 L470.54 885.61 L473.65 888.03 L476.76 890.45 L479.88 892.87 L482.99 895.28 L486.1 897.69 L489.21 900.09 L492.32 902.49 L495.44 904.87 L498.55 907.25 L501.66 909.61 L504.77 911.96 L507.89 914.29 L511 916.62 L514.11 918.92 L517.22 921.22 L520.34 923.49 L523.45 925.76 L526.56 928.01 L529.67 930.24 L532.78 932.45 L535.9 934.65 L539.01 936.82 L542.12 938.97 L545.23 941.11 L548.35 943.21 L551.46 945.29 L554.57 947.35 L557.68 949.37 L560.8 951.36 L563.91 953.32 L567.02 955.24 L570.13 957.12 L573.25 958.96 L576.36 960.76 L579.47 962.52 L582.58 964.22 L585.69 965.88 L588.81 967.49 L591.92 969.05 L595.03 970.56 L598.14 972.02 L601.26 973.43 L604.37 974.79 L607.48 976.1 L610.59 977.37 L613.71 978.58 L616.82 979.76 L619.93 980.89 L623.04 981.98 L626.15 983.03 L629.27 984.05 L632.38 985.04 L635.49 985.99 L638.6 986.92 L641.72 987.82 L644.83 988.69 L647.94 989.53 L651.05 990.36 L654.17 991.15 L657.28 991.92 L660.39 992.67 L663.5 993.39 L666.62 994.08 L669.73 994.76 L672.84 995.4 L675.95 996.03 L679.06 996.63 L682.18 997.2 L685.29 997.76 L688.4 998.3 L691.51 998.81 L694.63 999.31 L697.74 999.78 L700.85 1000.25 L703.96 1000.7 L707.08 1001.15 L710.19 1001.59 L713.3 1002.02" fill="none" stroke="#5e7a3a" stroke-width="2.35" stroke-dasharray="12.450 7.114"/>
<path d="M31.5 1109.5 L34.61 1106.4 L37.73 1103.31 L40.84 1100.22 L43.95 1097.13 L47.07 1094.04 L50.18 1090.95 L53.29 1087.87 L56.41 1084.79 L59.52 1081.71 L62.63 1078.64 L65.75 1075.57 L68.86 1072.51 L71.97 1069.45 L75.09 1066.4 L78.2 1063.35 L81.31 1060.31 L84.43 1057.28 L87.54 1054.25 L90.65 1051.25 L93.76 1048.26 L96.88 1045.28 L99.99 1042.34 L103.1 1039.41 L106.22 1036.52 L109.33 1033.66 L112.44 1030.83 L115.56 1028.03 L118.67 1025.28 L121.78 1022.57 L124.9 1019.89 L128.01 1017.25 L131.12 1014.63 L134.24 1012.05 L137.35 1009.48 L140.46 1006.94 L143.58 1004.41 L146.69 1001.9 L149.8 999.41 L152.92 996.94 L156.03 994.48 L159.14 992.02 L162.26 989.58 L165.37 987.15 L168.48 984.73 L171.6 982.31 L174.71 979.9 L177.82 977.5 L180.94 975.1 L184.05 972.71 L187.16 970.33 L190.28 967.96 L193.39 965.6 L196.5 963.25 L199.62 960.9 L202.73 958.58 L205.84 956.26 L208.95 953.96 L212.07 951.68 L215.18 949.41 L218.29 947.16 L221.41 944.93 L224.52 942.72 L227.63 940.53 L230.75 938.35 L233.86 936.2 L236.97 934.07 L240.09 931.95 L243.2 929.86 L246.31 927.79 L249.43 925.74 L252.54 923.71 L255.65 921.7 L258.77 919.72 L261.88 917.76 L264.99 915.82 L268.11 913.9 L271.22 912.01 L274.33 910.14 L277.45 908.3 L280.56 906.49 L283.67 904.72 L286.79 902.97 L289.9 901.27 L293.01 899.6 L296.13 897.98 L299.24 896.41 L302.35 894.88 L305.47 893.4 L308.58 891.98 L311.69 890.61 L314.81 889.3 L317.92 888.05 L321.03 886.86 L324.14 885.74 L327.26 884.68 L330.37 883.7 L333.48 882.78 L336.6 881.94 L339.71 881.18 L342.82 880.49 L345.94 879.88 L349.05 879.35 L352.16 878.89 L355.28 878.52 L358.39 878.23 L361.5 878.01 L364.62 877.89 L367.73 877.84 L370.84 877.89 L373.96 878.02 L377.07 878.23 L380.18 878.54 L383.3 878.94 L386.41 879.43 L389.52 880.02 L392.64 880.69 L395.75 881.47 L398.86 882.33 L401.98 883.3 L405.09 884.36 L408.2 885.51 L411.32 886.77 L414.43 888.12 L417.54 889.57 L420.66 891.12 L423.77 892.76 L426.88 894.5 L429.99 896.33 L433.11 898.26 L436.22 900.29 L439.33 902.41 L442.45 904.63 L445.56 906.95 L448.67 909.36 L451.79 911.87 L454.9 914.48 L458.01 917.18 L461.13 919.97 L464.24 922.86 L467.35 925.83 L470.47 928.88 L473.58 932.02 L476.69 935.24 L479.81 938.55 L482.92 941.92 L486.03 945.38 L489.15 948.9 L492.26 952.49 L495.37 956.15 L498.49 959.87 L501.6 963.66 L504.71 967.51 L507.83 971.42 L510.94 975.4 L514.05 979.44 L517.17 983.54 L520.28 987.7 L523.39 991.93 L526.51 996.21 L529.62 1000.55 L532.73 1004.95 L535.85 1009.4 L538.96 1013.9 L542.07 1018.45 L545.18 1023.04 L548.3 1027.68 L551.41 1032.35 L554.52 1037.07 L557.64 1041.82 L560.75 1046.61 L563.86 1051.44 L566.98 1056.31 L570.09 1061.22 L573.2 1066.17 L576.32 1071.17 L579.43 1076.21 L582.54 1081.29 L585.66 1086.41 L588.77 1091.56 L591.88 1096.74 L595 1101.94 L598.11 1107.16 L601.22 1112.41 L604.34 1117.67 L607.45 1122.96 L610.56 1128.27 L613.68 1133.6 L616.79 1138.96 L619.9 1144.35 L623.02 1149.77 L626.13 1155.22 L629.24 1160.71 L632.36 1166.23 L635.47 1171.8 L638.58 1177.41 L641.7 1183.06 L644.81 1188.75 L647.92 1194.48 L651.04 1200.26 L654.15 1206.08 L657.26 1211.93 L660.37 1217.82 L663.49 1223.74 L666.6 1229.69 L669.71 1235.67 L672.83 1241.67 L675.94 1247.69 L679.05 1253.73 L682.17 1259.79 L685.28 1265.86 L688.39 1271.94 L691.51 1278.02 L694.62 1284.12 L697.73 1290.22 L700.85 1296.33 L703.96 1302.44 L707.07 1308.56 L710.19 1314.67 L713.3 1320.79" fill="none" stroke="#e8902a" stroke-width="2.35" stroke-dasharray="12.626 7.215"/>
<path d="M31.7 974.51 L34.81 973.5 L37.92 972.48 L41.04 971.46 L44.15 970.44 L47.26 969.42 L50.37 968.39 L53.49 967.35 L56.6 966.31 L59.71 965.25 L62.82 964.19 L65.94 963.12 L69.05 962.04 L72.16 960.95 L75.27 959.85 L78.38 958.74 L81.5 957.61 L84.61 956.48 L87.72 955.33 L90.83 954.17 L93.95 952.99 L97.06 951.81 L100.17 950.6 L103.28 949.39 L106.4 948.16 L109.51 946.93 L112.62 945.67 L115.73 944.41 L118.85 943.13 L121.96 941.84 L125.07 940.54 L128.18 939.22 L131.29 937.89 L134.41 936.54 L137.52 935.18 L140.63 933.79 L143.74 932.39 L146.86 930.97 L149.97 929.53 L153.08 928.07 L156.19 926.58 L159.31 925.06 L162.42 923.52 L165.53 921.95 L168.64 920.36 L171.75 918.73 L174.87 917.07 L177.98 915.4 L181.09 913.7 L184.2 911.99 L187.32 910.27 L190.43 908.53 L193.54 906.79 L196.65 905.04 L199.77 903.28 L202.88 901.52 L205.99 899.76 L209.1 897.99 L212.22 896.22 L215.33 894.46 L218.44 892.7 L221.55 890.94 L224.66 889.19 L227.78 887.46 L230.89 885.74 L234 884.03 L237.11 882.34 L240.23 880.67 L243.34 879.03 L246.45 877.41 L249.56 875.82 L252.68 874.25 L255.79 872.72 L258.9 871.22 L262.01 869.76 L265.12 868.33 L268.24 866.94 L271.35 865.6 L274.46 864.29 L277.57 863.02 L280.69 861.79 L283.8 860.61 L286.91 859.47 L290.02 858.38 L293.14 857.33 L296.25 856.32 L299.36 855.37 L302.47 854.46 L305.58 853.61 L308.7 852.81 L311.81 852.07 L314.92 851.38 L318.03 850.75 L321.15 850.19 L324.26 849.68 L327.37 849.24 L330.48 848.87 L333.6 848.56 L336.71 848.31 L339.82 848.14 L342.93 848.03 L346.05 848 L349.16 848.04 L352.27 848.15 L355.38 848.33 L358.49 848.59 L361.61 848.91 L364.72 849.32 L367.83 849.79 L370.94 850.33 L374.06 850.95 L377.17 851.64 L380.28 852.4 L383.39 853.24 L386.51 854.15 L389.62 855.13 L392.73 856.19 L395.84 857.33 L398.95 858.55 L402.07 859.84 L405.18 861.22 L408.29 862.68 L411.4 864.23 L414.52 865.85 L417.63 867.56 L420.74 869.35 L423.85 871.21 L426.97 873.15 L430.08 875.17 L433.19 877.27 L436.3 879.43 L439.42 881.67 L442.53 883.98 L445.64 886.36 L448.75 888.81 L451.86 891.32 L454.98 893.89 L458.09 896.52 L461.2 899.21 L464.31 901.95 L467.43 904.74 L470.54 907.58 L473.65 910.46 L476.76 913.38 L479.88 916.34 L482.99 919.33 L486.1 922.36 L489.21 925.42 L492.32 928.5 L495.44 931.61 L498.55 934.75 L501.66 937.9 L504.77 941.07 L507.89 944.25 L511 947.45 L514.11 950.65 L517.22 953.87 L520.34 957.09 L523.45 960.32 L526.56 963.56 L529.67 966.81 L532.78 970.06 L535.9 973.32 L539.01 976.58 L542.12 979.84 L545.23 983.11 L548.35 986.38 L551.46 989.65 L554.57 992.92 L557.68 996.19 L560.8 999.47 L563.91 1002.74 L567.02 1006.02 L570.13 1009.3 L573.25 1012.57 L576.36 1015.85 L579.47 1019.12 L582.58 1022.4 L585.69 1025.67 L588.81 1028.95 L591.92 1032.23 L595.03 1035.51 L598.14 1038.8 L601.26 1042.1 L604.37 1045.4 L607.48 1048.71 L610.59 1052.02 L613.71 1055.35 L616.82 1058.68 L619.93 1062.02 L623.04 1065.37 L626.15 1068.73 L629.27 1072.09 L632.38 1075.46 L635.49 1078.84 L638.6 1082.22 L641.72 1085.6 L644.83 1088.99 L647.94 1092.38 L651.05 1095.76 L654.17 1099.14 L657.28 1102.5 L660.39 1105.86 L663.5 1109.2 L666.62 1112.54 L669.73 1115.86 L672.84 1119.18 L675.95 1122.5 L679.06 1125.8 L682.18 1129.11 L685.29 1132.41 L688.4 1135.71 L691.51 1139 L694.63 1142.29 L697.74 1145.58 L700.85 1148.87 L703.96 1152.15 L707.08 1155.44 L710.19 1158.72 L713.3 1162" fill="none" stroke="#8e2f3e" stroke-width="2.25"/>
<g stroke="#3a3a3a" stroke-width="1.8"><line x1="5" x2="729.5" y1="1337" y2="1337"/><line x1="19.25" x2="19.25" y1="1337" y2="1346"/><line x1="235" x2="235" y1="1337" y2="1346"/><line x1="451.25" x2="451.25" y1="1337" y2="1346"/><line x1="667" x2="667" y1="1337" y2="1346"/><line x1="728.25" x2="728.25" y1="776" y2="1338"/><line x1="728.25" x2="737" y1="791.4" y2="791.4"/><line x1="728.25" x2="737" y1="841" y2="841"/><line x1="728.25" x2="737" y1="910.7" y2="910.7"/><line x1="728.25" x2="737" y1="1030.2" y2="1030.2"/><line x1="794.25" x2="794.25" y1="776" y2="1338"/><line x1="794.25" x2="803.25" y1="791" y2="791"/><line x1="794.25" x2="803.25" y1="923.75" y2="923.75"/><line x1="794.25" x2="803.25" y1="1056.5" y2="1056.5"/><line x1="794.25" x2="803.25" y1="1189.25" y2="1189.25"/><line x1="794.25" x2="803.25" y1="1322" y2="1322"/></g>
<text x="19.25" y="1372.7" text-anchor="middle" font-size="22.8">0</text>
<text x="235" y="1372.7" text-anchor="middle" font-size="22.8">10</text>
<text x="451.25" y="1372.7" text-anchor="middle" font-size="22.8">20</text>
<text x="667" y="1372.7" text-anchor="middle" font-size="22.8">30</text>
<text transform="translate(763.8 791.4) rotate(-90)" text-anchor="middle" font-size="23.7">2</text>
<text transform="translate(763.8 841) rotate(-90)" text-anchor="middle" font-size="23.7">1.5</text>
<text transform="translate(763.8 910.7) rotate(-90)" text-anchor="middle" font-size="23.7">1</text>
<text transform="translate(763.8 1030.2) rotate(-90)" text-anchor="middle" font-size="23.7">.5</text>
<text transform="translate(786.2 1055.5) rotate(-90)" text-anchor="middle" font-size="23.7">OR ( 95 % CI )</text>
<text transform="translate(830 791) rotate(-90)" text-anchor="middle" font-size="23.7">200</text>
<text transform="translate(830 923.75) rotate(-90)" text-anchor="middle" font-size="23.7">150</text>
<text transform="translate(830 1056.5) rotate(-90)" text-anchor="middle" font-size="23.7">100</text>
<text transform="translate(830 1189.25) rotate(-90)" text-anchor="middle" font-size="23.7">50</text>
<text transform="translate(830 1322) rotate(-90)" text-anchor="middle" font-size="23.7">0</text>
<text transform="translate(851 1057) rotate(-90)" text-anchor="middle" font-size="23.7">Frequency</text>
<text x="152.6" y="744.8" font-family='"Liberation Serif", serif' font-size="33.1" class="ttl" textLength="560.6" lengthAdjust="spacingAndGlyphs">Chloroform in residential tap water (μg/L)</text>
<text x="120.75" y="1410.25" font-size="24.2" textLength="484.75" lengthAdjust="spacingAndGlyphs">Chloroform in residential tap water (μg/L)</text>
</g>
<g>
<g stroke="#f0f1f1" stroke-width="1.9"><line x1="943.75" x2="1670.4" y1="801" y2="801"/><line x1="943.75" x2="1670.4" y1="844.75" y2="844.75"/><line x1="943.75" x2="1670.4" y1="906.25" y2="906.25"/><line x1="943.75" x2="1670.4" y1="1011.25" y2="1011.25"/></g>
<g fill="#e8e6f1" stroke="#faf9fc" stroke-width="2.14"><rect x="959.93" y="951.43" width="31.14" height="372.89"/><rect x="991.07" y="881.43" width="31.14" height="442.89"/><rect x="1022.21" y="851.93" width="31.14" height="472.39"/><rect x="1053.35" y="791.93" width="31.14" height="532.39"/><rect x="1084.49" y="831.18" width="31.14" height="493.14"/><rect x="1115.63" y="951.43" width="31.14" height="372.89"/><rect x="1146.77" y="998.18" width="31.14" height="326.14"/><rect x="1177.91" y="1040.68" width="31.14" height="283.64"/><rect x="1209.05" y="1071.43" width="31.14" height="252.89"/><rect x="1240.19" y="1174.68" width="31.14" height="149.64"/><rect x="1271.33" y="1157.93" width="31.14" height="166.39"/><rect x="1302.47" y="1264.68" width="31.14" height="59.64"/><rect x="1333.61" y="1230.93" width="31.14" height="93.39"/><rect x="1364.75" y="1274.68" width="31.14" height="49.64"/><rect x="1395.89" y="1294.68" width="31.14" height="29.64"/><rect x="1427.03" y="1303.93" width="31.14" height="20.39"/><rect x="1458.17" y="1310.93" width="31.14" height="13.39"/><rect x="1551.59" y="1314.68" width="31.14" height="9.64"/></g>
<path d="M960.3 975.37 L963.14 976.5 L965.99 977.62 L968.83 978.73 L971.68 979.81 L974.52 980.88 L977.37 981.91 L980.21 982.9 L983.06 983.86 L985.9 984.77 L988.75 985.64 L991.59 986.45 L994.44 987.22 L997.28 987.92 L1000.13 988.58 L1002.97 989.17 L1005.82 989.71 L1008.66 990.19 L1011.51 990.62 L1014.35 990.98 L1017.19 991.28 L1020.04 991.53 L1022.88 991.72 L1025.73 991.85 L1028.57 991.93 L1031.42 991.95 L1034.26 991.92 L1037.11 991.84 L1039.95 991.71 L1042.8 991.53 L1045.64 991.31 L1048.49 991.04 L1051.33 990.72 L1054.18 990.37 L1057.02 989.97 L1059.87 989.54 L1062.71 989.07 L1065.56 988.57 L1068.4 988.04 L1071.25 987.49 L1074.09 986.91 L1076.93 986.31 L1079.78 985.69 L1082.62 985.05 L1085.47 984.4 L1088.31 983.75 L1091.16 983.08 L1094 982.42 L1096.85 981.75 L1099.69 981.09 L1102.54 980.43 L1105.38 979.79 L1108.23 979.16 L1111.07 978.54 L1113.92 977.93 L1116.76 977.35 L1119.61 976.78 L1122.45 976.24 L1125.3 975.72 L1128.14 975.22 L1130.98 974.75 L1133.83 974.3 L1136.67 973.87 L1139.52 973.47 L1142.36 973.09 L1145.21 972.74 L1148.05 972.41 L1150.9 972.11 L1153.74 971.82 L1156.59 971.56 L1159.43 971.32 L1162.28 971.1 L1165.12 970.9 L1167.97 970.72 L1170.81 970.55 L1173.66 970.4 L1176.5 970.26 L1179.35 970.13 L1182.19 970.02 L1185.04 969.92 L1187.88 969.82 L1190.72 969.73 L1193.57 969.66 L1196.41 969.58 L1199.26 969.51 L1202.1 969.44 L1204.95 969.38 L1207.79 969.31 L1210.64 969.25 L1213.48 969.18 L1216.33 969.11 L1219.17 969.03 L1222.02 968.95 L1224.86 968.86 L1227.71 968.76 L1230.55 968.66 L1233.4 968.54 L1236.24 968.41 L1239.09 968.27 L1241.93 968.12 L1244.77 967.95 L1247.62 967.76 L1250.46 967.56 L1253.31 967.33 L1256.15 967.09 L1259 966.83 L1261.84 966.55 L1264.69 966.25 L1267.53 965.93 L1270.38 965.59 L1273.22 965.23 L1276.07 964.85 L1278.91 964.46 L1281.76 964.05 L1284.6 963.62 L1287.45 963.17 L1290.29 962.7 L1293.14 962.22 L1295.98 961.72 L1298.83 961.19 L1301.67 960.65 L1304.51 960.09 L1307.36 959.52 L1310.2 958.92 L1313.05 958.3 L1315.89 957.66 L1318.74 957.01 L1321.58 956.33 L1324.43 955.63 L1327.27 954.91 L1330.12 954.17 L1332.96 953.41 L1335.81 952.63 L1338.65 951.83 L1341.5 951.01 L1344.34 950.17 L1347.19 949.3 L1350.03 948.41 L1352.88 947.5 L1355.72 946.57 L1358.56 945.62 L1361.41 944.64 L1364.25 943.64 L1367.1 942.61 L1369.94 941.56 L1372.79 940.48 L1375.63 939.38 L1378.48 938.24 L1381.32 937.08 L1384.17 935.9 L1387.01 934.68 L1389.86 933.43 L1392.7 932.15 L1395.55 930.85 L1398.39 929.51 L1401.24 928.14 L1404.08 926.74 L1406.93 925.31 L1409.77 923.85 L1412.62 922.35 L1415.46 920.83 L1418.3 919.29 L1421.15 917.71 L1423.99 916.1 L1426.84 914.47 L1429.68 912.81 L1432.53 911.12 L1435.37 909.4 L1438.22 907.66 L1441.06 905.89 L1443.91 904.1 L1446.75 902.28 L1449.6 900.44 L1452.44 898.57 L1455.29 896.67 L1458.13 894.75 L1460.98 892.8 L1463.82 890.83 L1466.67 888.84 L1469.51 886.81 L1472.35 884.77 L1475.2 882.69 L1478.04 880.59 L1480.89 878.47 L1483.73 876.32 L1486.58 874.15 L1489.42 871.95 L1492.27 869.72 L1495.11 867.48 L1497.96 865.21 L1500.8 862.92 L1503.65 860.62 L1506.49 858.3 L1509.34 855.97 L1512.18 853.63 L1515.03 851.28 L1517.87 848.93 L1520.72 846.57 L1523.56 844.21 L1526.41 841.85 L1529.25 839.48 L1532.09 837.1 L1534.94 834.72 L1537.78 832.33 L1540.63 829.92 L1543.47 827.5 L1546.32 825.06 L1549.16 822.6 L1552.01 820.11 L1554.85 817.6 L1557.7 815.07 L1560.54 812.51 L1563.39 809.93 L1566.23 807.32 L1569.08 804.69 L1571.92 802.03 L1574.77 799.35 L1577.61 796.64 L1580.46 793.92 L1583.3 791.19" fill="none" stroke="#5e7a3a" stroke-width="2.35" stroke-dasharray="12.513 7.150"/>
<path d="M960.3 1106.67 L963.14 1104.02 L965.99 1101.37 L968.83 1098.73 L971.68 1096.09 L974.52 1093.47 L977.37 1090.86 L980.21 1088.27 L983.06 1085.71 L985.9 1083.16 L988.75 1080.66 L991.59 1078.18 L994.44 1075.74 L997.28 1073.35 L1000.13 1071 L1002.97 1068.69 L1005.82 1066.42 L1008.66 1064.2 L1011.51 1062.03 L1014.35 1059.91 L1017.19 1057.83 L1020.04 1055.8 L1022.88 1053.82 L1025.73 1051.89 L1028.57 1050.01 L1031.42 1048.17 L1034.26 1046.39 L1037.11 1044.66 L1039.95 1042.97 L1042.8 1041.34 L1045.64 1039.77 L1048.49 1038.24 L1051.33 1036.77 L1054.18 1035.36 L1057.02 1034 L1059.87 1032.7 L1062.71 1031.47 L1065.56 1030.29 L1068.4 1029.17 L1071.25 1028.11 L1074.09 1027.11 L1076.93 1026.18 L1079.78 1025.31 L1082.62 1024.5 L1085.47 1023.75 L1088.31 1023.07 L1091.16 1022.44 L1094 1021.87 L1096.85 1021.36 L1099.69 1020.91 L1102.54 1020.52 L1105.38 1020.18 L1108.23 1019.89 L1111.07 1019.66 L1113.92 1019.47 L1116.76 1019.34 L1119.61 1019.25 L1122.45 1019.21 L1125.3 1019.22 L1128.14 1019.28 L1130.98 1019.38 L1133.83 1019.53 L1136.67 1019.72 L1139.52 1019.96 L1142.36 1020.24 L1145.21 1020.57 L1148.05 1020.93 L1150.9 1021.34 L1153.74 1021.79 L1156.59 1022.28 L1159.43 1022.8 L1162.28 1023.36 L1165.12 1023.95 L1167.97 1024.57 L1170.81 1025.22 L1173.66 1025.9 L1176.5 1026.6 L1179.35 1027.33 L1182.19 1028.08 L1185.04 1028.84 L1187.88 1029.62 L1190.72 1030.42 L1193.57 1031.24 L1196.41 1032.07 L1199.26 1032.92 L1202.1 1033.78 L1204.95 1034.65 L1207.79 1035.54 L1210.64 1036.44 L1213.48 1037.35 L1216.33 1038.27 L1219.17 1039.21 L1222.02 1040.15 L1224.86 1041.11 L1227.71 1042.08 L1230.55 1043.06 L1233.4 1044.05 L1236.24 1045.05 L1239.09 1046.07 L1241.93 1047.09 L1244.77 1048.13 L1247.62 1049.19 L1250.46 1050.25 L1253.31 1051.33 L1256.15 1052.43 L1259 1053.54 L1261.84 1054.67 L1264.69 1055.82 L1267.53 1056.97 L1270.38 1058.14 L1273.22 1059.32 L1276.07 1060.52 L1278.91 1061.72 L1281.76 1062.94 L1284.6 1064.17 L1287.45 1065.4 L1290.29 1066.65 L1293.14 1067.92 L1295.98 1069.2 L1298.83 1070.49 L1301.67 1071.8 L1304.51 1073.13 L1307.36 1074.47 L1310.2 1075.83 L1313.05 1077.21 L1315.89 1078.61 L1318.74 1080.03 L1321.58 1081.47 L1324.43 1082.93 L1327.27 1084.41 L1330.12 1085.91 L1332.96 1087.44 L1335.81 1088.98 L1338.65 1090.56 L1341.5 1092.15 L1344.34 1093.77 L1347.19 1095.41 L1350.03 1097.08 L1352.88 1098.77 L1355.72 1100.49 L1358.56 1102.23 L1361.41 1104 L1364.25 1105.79 L1367.1 1107.61 L1369.94 1109.46 L1372.79 1111.33 L1375.63 1113.22 L1378.48 1115.15 L1381.32 1117.1 L1384.17 1119.07 L1387.01 1121.08 L1389.86 1123.11 L1392.7 1125.17 L1395.55 1127.26 L1398.39 1129.38 L1401.24 1131.53 L1404.08 1133.71 L1406.93 1135.92 L1409.77 1138.17 L1412.62 1140.45 L1415.46 1142.76 L1418.3 1145.1 L1421.15 1147.48 L1423.99 1149.88 L1426.84 1152.32 L1429.68 1154.78 L1432.53 1157.28 L1435.37 1159.81 L1438.22 1162.37 L1441.06 1164.95 L1443.91 1167.57 L1446.75 1170.21 L1449.6 1172.88 L1452.44 1175.57 L1455.29 1178.29 L1458.13 1181.04 L1460.98 1183.81 L1463.82 1186.62 L1466.67 1189.44 L1469.51 1192.3 L1472.35 1195.19 L1475.2 1198.11 L1478.04 1201.06 L1480.89 1204.04 L1483.73 1207.05 L1486.58 1210.09 L1489.42 1213.16 L1492.27 1216.26 L1495.11 1219.38 L1497.96 1222.52 L1500.8 1225.68 L1503.65 1228.86 L1506.49 1232.05 L1509.34 1235.26 L1512.18 1238.49 L1515.03 1241.72 L1517.87 1244.98 L1520.72 1248.24 L1523.56 1251.52 L1526.41 1254.82 L1529.25 1258.13 L1532.09 1261.45 L1534.94 1264.79 L1537.78 1268.14 L1540.63 1271.51 L1543.47 1274.9 L1546.32 1278.3 L1549.16 1281.73 L1552.01 1285.17 L1554.85 1288.63 L1557.7 1292.12 L1560.54 1295.62 L1563.39 1299.14 L1566.23 1302.68 L1569.08 1306.24 L1571.92 1309.8 L1574.77 1313.38 L1577.61 1316.97 L1580.46 1320.57 L1583.3 1324.17" fill="none" stroke="#e8902a" stroke-width="2.35" stroke-dasharray="12.534 7.162"/>
<path d="M960.3 1040.8 L963.14 1039.9 L965.99 1039.01 L968.83 1038.11 L971.67 1037.22 L974.52 1036.33 L977.36 1035.44 L980.2 1034.55 L983.05 1033.66 L985.89 1032.77 L988.73 1031.89 L991.58 1031 L994.42 1030.12 L997.26 1029.25 L1000.11 1028.37 L1002.95 1027.49 L1005.79 1026.62 L1008.64 1025.74 L1011.48 1024.87 L1014.32 1023.99 L1017.17 1023.11 L1020.01 1022.23 L1022.85 1021.34 L1025.7 1020.46 L1028.54 1019.57 L1031.38 1018.68 L1034.23 1017.79 L1037.07 1016.9 L1039.91 1016.02 L1042.76 1015.14 L1045.6 1014.27 L1048.44 1013.41 L1051.29 1012.55 L1054.13 1011.7 L1056.97 1010.86 L1059.82 1010.04 L1062.66 1009.23 L1065.51 1008.43 L1068.35 1007.65 L1071.19 1006.88 L1074.04 1006.14 L1076.88 1005.41 L1079.72 1004.71 L1082.57 1004.03 L1085.41 1003.37 L1088.25 1002.74 L1091.1 1002.14 L1093.94 1001.57 L1096.78 1001.02 L1099.63 1000.5 L1102.47 1000.01 L1105.31 999.55 L1108.16 999.12 L1111 998.72 L1113.84 998.35 L1116.69 998.01 L1119.53 997.71 L1122.37 997.44 L1125.22 997.21 L1128.06 997 L1130.9 996.83 L1133.75 996.69 L1136.59 996.57 L1139.43 996.49 L1142.28 996.44 L1145.12 996.42 L1147.96 996.43 L1150.81 996.47 L1153.65 996.54 L1156.49 996.63 L1159.34 996.75 L1162.18 996.9 L1165.02 997.07 L1167.87 997.26 L1170.71 997.47 L1173.55 997.71 L1176.4 997.97 L1179.24 998.24 L1182.08 998.54 L1184.93 998.86 L1187.77 999.19 L1190.61 999.54 L1193.46 999.9 L1196.3 1000.28 L1199.14 1000.68 L1201.99 1001.09 L1204.83 1001.51 L1207.67 1001.94 L1210.52 1002.39 L1213.36 1002.85 L1216.2 1003.32 L1219.05 1003.79 L1221.89 1004.28 L1224.73 1004.77 L1227.58 1005.27 L1230.42 1005.77 L1233.26 1006.28 L1236.11 1006.79 L1238.95 1007.31 L1241.79 1007.83 L1244.64 1008.34 L1247.48 1008.86 L1250.32 1009.37 L1253.17 1009.88 L1256.01 1010.38 L1258.85 1010.87 L1261.7 1011.36 L1264.54 1011.84 L1267.38 1012.31 L1270.23 1012.77 L1273.07 1013.22 L1275.92 1013.66 L1278.76 1014.09 L1281.6 1014.52 L1284.45 1014.93 L1287.29 1015.34 L1290.13 1015.75 L1292.98 1016.14 L1295.82 1016.53 L1298.66 1016.92 L1301.51 1017.3 L1304.35 1017.67 L1307.19 1018.04 L1310.04 1018.41 L1312.88 1018.77 L1315.72 1019.14 L1318.57 1019.5 L1321.41 1019.86 L1324.25 1020.22 L1327.1 1020.58 L1329.94 1020.94 L1332.78 1021.3 L1335.63 1021.66 L1338.47 1022.03 L1341.31 1022.39 L1344.16 1022.76 L1347 1023.13 L1349.84 1023.5 L1352.69 1023.87 L1355.53 1024.24 L1358.37 1024.61 L1361.22 1024.98 L1364.06 1025.36 L1366.9 1025.73 L1369.75 1026.11 L1372.59 1026.48 L1375.43 1026.86 L1378.28 1027.24 L1381.12 1027.62 L1383.96 1028 L1386.81 1028.39 L1389.65 1028.77 L1392.49 1029.16 L1395.34 1029.55 L1398.18 1029.95 L1401.02 1030.34 L1403.87 1030.74 L1406.71 1031.14 L1409.55 1031.54 L1412.4 1031.95 L1415.24 1032.35 L1418.08 1032.76 L1420.93 1033.17 L1423.77 1033.59 L1426.61 1034 L1429.46 1034.42 L1432.3 1034.84 L1435.14 1035.26 L1437.99 1035.68 L1440.83 1036.1 L1443.67 1036.53 L1446.52 1036.96 L1449.36 1037.38 L1452.2 1037.82 L1455.05 1038.25 L1457.89 1038.68 L1460.73 1039.12 L1463.58 1039.55 L1466.42 1039.99 L1469.26 1040.43 L1472.11 1040.87 L1474.95 1041.31 L1477.79 1041.75 L1480.64 1042.2 L1483.48 1042.64 L1486.33 1043.09 L1489.17 1043.53 L1492.01 1043.98 L1494.86 1044.43 L1497.7 1044.88 L1500.54 1045.32 L1503.39 1045.77 L1506.23 1046.22 L1509.07 1046.67 L1511.92 1047.12 L1514.76 1047.56 L1517.6 1048.01 L1520.45 1048.46 L1523.29 1048.9 L1526.13 1049.34 L1528.98 1049.79 L1531.82 1050.23 L1534.66 1050.67 L1537.51 1051.11 L1540.35 1051.54 L1543.19 1051.98 L1546.04 1052.41 L1548.88 1052.85 L1551.72 1053.28 L1554.57 1053.71 L1557.41 1054.14 L1560.25 1054.57 L1563.1 1055 L1565.94 1055.43 L1568.78 1055.86 L1571.63 1056.29 L1574.47 1056.72 L1577.31 1057.15 L1580.16 1057.57 L1583 1058" fill="none" stroke="#8e2f3e" stroke-width="2.25"/>
<g stroke="#3a3a3a" stroke-width="1.8"><line x1="943.75" x2="1671.4" y1="1339.4" y2="1339.4"/><line x1="958.25" x2="958.25" y1="1339.4" y2="1348.65"/><line x1="1190.5" x2="1190.5" y1="1339.4" y2="1348.65"/><line x1="1423.25" x2="1423.25" y1="1339.4" y2="1348.65"/><line x1="1655.5" x2="1655.5" y1="1339.4" y2="1348.65"/><line x1="1670.4" x2="1670.4" y1="776" y2="1340.4"/><line x1="1670.4" x2="1679.15" y1="801" y2="801"/><line x1="1670.4" x2="1679.15" y1="844.75" y2="844.75"/><line x1="1670.4" x2="1679.15" y1="906.25" y2="906.25"/><line x1="1670.4" x2="1679.15" y1="1011.25" y2="1011.25"/><line x1="1736.6" x2="1736.6" y1="776" y2="1340.4"/><line x1="1736.6" x2="1745.85" y1="824.25" y2="824.25"/><line x1="1736.6" x2="1745.85" y1="991" y2="991"/><line x1="1736.6" x2="1745.85" y1="1157.75" y2="1157.75"/><line x1="1736.6" x2="1745.85" y1="1324.5" y2="1324.5"/></g>
<text x="958.25" y="1375.2" text-anchor="middle" font-size="22.8">0</text>
<text x="1190.5" y="1375.2" text-anchor="middle" font-size="22.8">20</text>
<text x="1423.25" y="1375.2" text-anchor="middle" font-size="22.8">40</text>
<text x="1655.5" y="1375.2" text-anchor="middle" font-size="22.8">60</text>
<text transform="translate(1707 801) rotate(-90)" text-anchor="middle" font-size="23.7">4</text>
<text transform="translate(1707 844.75) rotate(-90)" text-anchor="middle" font-size="23.7">3</text>
<text transform="translate(1707 906.25) rotate(-90)" text-anchor="middle" font-size="23.7">2</text>
<text transform="translate(1707 1011.25) rotate(-90)" text-anchor="middle" font-size="23.7">1</text>
<text transform="translate(1727.5 1055.5) rotate(-90)" text-anchor="middle" font-size="23.7">OR ( 95 % CI )</text>
<text transform="translate(1773 824.25) rotate(-90)" text-anchor="middle" font-size="23.7">150</text>
<text transform="translate(1773 991) rotate(-90)" text-anchor="middle" font-size="23.7">100</text>
<text transform="translate(1773 1157.75) rotate(-90)" text-anchor="middle" font-size="23.7">50</text>
<text transform="translate(1773 1324.5) rotate(-90)" text-anchor="middle" font-size="23.7">0</text>
<text transform="translate(1794 1057) rotate(-90)" text-anchor="middle" font-size="23.7">Frequency</text>
<text x="1118.75" y="744.8" font-family='"Liberation Serif", serif' font-size="33.1" class="ttl" textLength="508.45" lengthAdjust="spacingAndGlyphs">Nitrate waterborne ingestion (mg/day)</text>
<text x="1069.5" y="1410.25" font-size="24.2" textLength="451.75" lengthAdjust="spacingAndGlyphs">Nitrate waterborne ingestion (mg/day)</text>
</g>
</svg>
</body></html>
